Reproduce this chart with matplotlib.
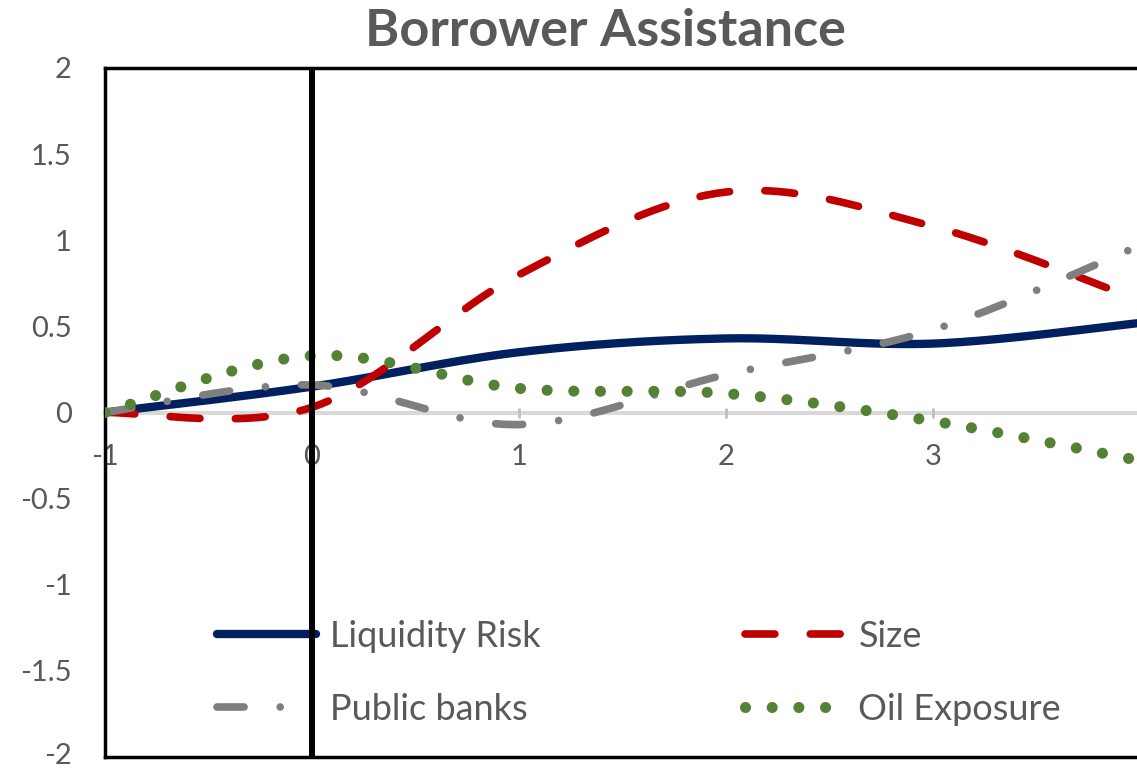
import numpy as np
import matplotlib
matplotlib.use("Agg")
import matplotlib.pyplot as plt
import matplotlib.transforms as mtransforms
from matplotlib.ticker import FixedLocator, FixedFormatter

# Periods relative to the event, and the estimated effect for each bank characteristic
periods = [-1, 0, 1, 2, 3, 4]
liquidity_risk = [0.00, 0.15, 0.35, 0.43, 0.40, 0.52]
size = [0.00, 0.03, 0.80, 1.28, 1.08, 0.65]
public_banks = [0.00, 0.16, -0.07, 0.22, 0.48, 0.97]
oil_exposure = [0.00, 0.33, 0.14, 0.11, -0.05, -0.28]

series_names = ["Liquidity Risk", "Size", "Public banks", "Oil Exposure"]

ytick_values = [-2, -1.5, -1, -0.5, 0, 0.5, 1, 1.5, 2]
ytick_labels = ["-2", "-1.5", "-1", "-0.5", "0", "0.5", "1", "1.5", "2"]
xtick_values = [-1, 0, 1, 2, 3]
xtick_labels = ["-1", "0", "1", "2", "3"]

TEXT_GREY = "#595959"
plt.rcParams["font.family"] = ["Lato", "DejaVu Sans"]
plt.rcParams["lines.scale_dashes"] = False


def smooth(xs, ys, n=40):
    """Spreadsheet-style smoothed line: cubic Bezier segments through every point."""
    p = np.column_stack([xs, ys]).astype(float)
    m = len(p)
    out = []
    for i in range(m - 1):
        p_prev = p[i - 1] if i > 0 else p[i]
        p_next2 = p[i + 2] if i + 2 < m else p[i + 1]
        c0 = p[i]
        c1 = p[i] + (p[i + 1] - p_prev) / 6.0
        c2 = p[i + 1] - (p_next2 - p[i]) / 6.0
        c3 = p[i + 1]
        t = np.linspace(0, 1, n, endpoint=(i == m - 2))[:, None]
        seg = ((1 - t) ** 3) * c0 + 3 * ((1 - t) ** 2) * t * c1 + 3 * (1 - t) * t ** 2 * c2 + t ** 3 * c3
        out.append(seg)
    curve = np.vstack(out)
    return curve[:, 0], curve[:, 1]


W, H = 1137, 770
fig = plt.figure(figsize=(W / 100, H / 100), dpi=100)
ax = fig.add_axes([105 / W, (H - 757) / H, (1140 - 105) / W, (757 - 68) / H])

styles = [
    dict(color="#002060", lw=6.0, linestyle="-", solid_capstyle="round"),
    dict(color="#C00000", lw=5.5, linestyle=(0, (21.5, 25.5)), dash_capstyle="round"),
    dict(color="#7F7F7F", lw=5.5, linestyle=(0, (19.5, 26.0, 0.01, 26.0)), dash_capstyle="round"),
    dict(color="#548235", lw=8.0, linestyle=(0, (0.01, 19.2)), dash_capstyle="round"),
]

lines = []
for name, values, st in zip(series_names, [liquidity_risk, size, public_banks, oil_exposure], styles):
    sx, sy = smooth(periods, values)
    ln, = ax.plot(sx, sy, label=name, zorder=3, **st)
    lines.append(ln)

ax.set_xlim(-1, 4)
ax.set_ylim(-2, 2)

# Frame: black on left, top and bottom; horizontal axis line runs through zero
for side in ["left", "top"]:
    ax.spines[side].set_color("black")
    ax.spines[side].set_linewidth(2.5)
ax.spines["right"].set_visible(False)
ax.spines["bottom"].set_position(("data", 0))
ax.spines["bottom"].set_color("#D9D9D9")
ax.spines["bottom"].set_linewidth(3)
ax.spines["bottom"].set_zorder(1)
ax.axhline(-2, color="black", lw=2.5, clip_on=False, zorder=5)
ax.axvline(0, color="black", lw=4.3, zorder=6)

ax.yaxis.set_major_locator(FixedLocator(ytick_values))
ax.yaxis.set_major_formatter(FixedFormatter(ytick_labels))
ax.xaxis.set_major_locator(FixedLocator(xtick_values))
ax.xaxis.set_major_formatter(FixedFormatter(xtick_labels))
ax.tick_params(axis="y", length=0, pad=24, labelsize=21, labelcolor=TEXT_GREY)
ax.tick_params(axis="x", direction="inout", length=7, width=2, color="#BFBFBF",
               pad=19, labelsize=21, labelcolor=TEXT_GREY)

# Keep the lowest y label inside the canvas
fig.canvas.draw()
lowest = ax.yaxis.get_major_ticks()[0].label1
lowest.set_transform(lowest.get_transform() +
                     mtransforms.ScaledTranslation(0, 4 / 100, fig.dpi_scale_trans))

fig.text(605 / W, 1 - 31 / H, "Borrower Assistance", ha="center", va="center",
         fontsize=37.5, fontweight="bold", color=TEXT_GREY)

# Two legend rows: (Liquidity Risk, Size) and (Public banks, Oil Exposure)
order = [0, 2, 1, 3]
leg = ax.legend([lines[i] for i in order], [series_names[i] for i in order],
                ncol=2, frameon=False, loc="upper left",
                bbox_to_anchor=(217 / W, 1 - 620 / H), bbox_transform=fig.transFigure,
                fontsize=26, handlelength=2.75, handletextpad=0.39, columnspacing=5.65,
                labelspacing=1.1, borderpad=0, borderaxespad=0)
for t in leg.get_texts():
    t.set_color(TEXT_GREY)

fig.savefig("out.png", dpi=100)
